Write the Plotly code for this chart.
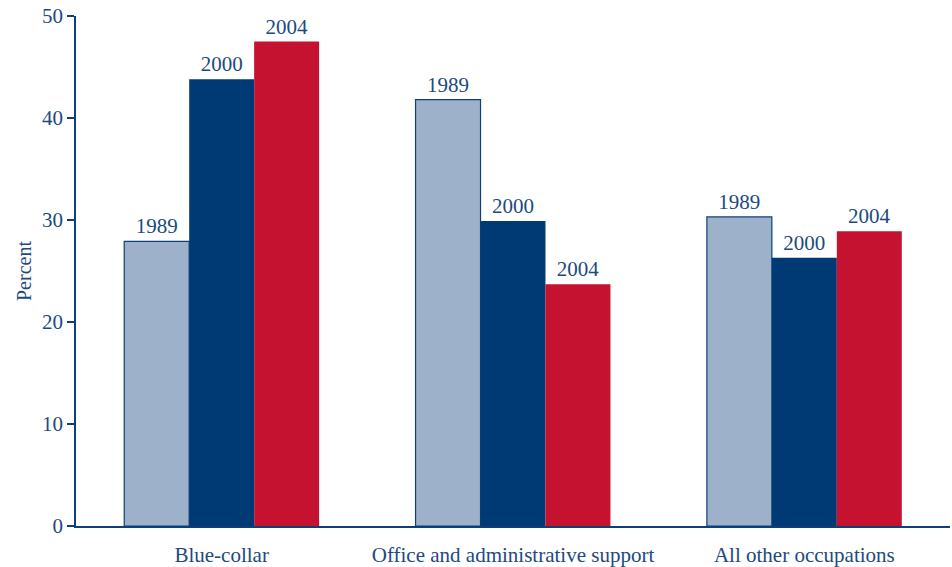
import plotly.graph_objects as go

categories = ["Blue-collar", "Office and administrative support", "All other occupations"]
years = ["1989", "2000", "2004"]
values_1989 = [27.9, 41.8, 30.3]
values_2000 = [43.8, 29.9, 26.3]
values_2004 = [47.5, 23.7, 28.9]
y_ticks = [0, 10, 20, 30, 40, 50]

NAVY = "#0E3F78"
TEXT = "#1C4A80"
colors = {"1989": "#9DB2CA", "2000": "#003A75", "2004": "#C41230"}
lines = {"1989": (NAVY, 1.2), "2000": ("#003A75", 0), "2004": ("#C41230", 0)}
series = {"1989": values_1989, "2000": values_2000, "2004": values_2004}

FONT = "Liberation Serif"

fig = go.Figure()
for yr in years:
    lc, lw = lines[yr]
    fig.add_trace(go.Bar(
        x=categories, y=series[yr], name=yr,
        marker=dict(color=colors[yr], line=dict(color=lc, width=lw)),
        text=[yr] * len(categories), textposition="outside",
        textfont=dict(family=FONT, size=21, color=TEXT),
        cliponaxis=False,
    ))

fig.update_layout(
    width=952, height=567,
    margin=dict(l=76, r=2, t=16, b=41),
    barmode="group", bargap=0.331, bargroupgap=0,
    plot_bgcolor="white", paper_bgcolor="white",
    showlegend=False,
    font=dict(family=FONT, size=21, color=TEXT),
    xaxis=dict(
        showline=True, linecolor=NAVY, linewidth=1.5,
        ticks="", ticklabelstandoff=9, automargin=False,
        tickfont=dict(family=FONT, size=21, color=TEXT),
    ),
    yaxis=dict(
        range=[0, 50], tickvals=y_ticks,
        showline=True, linecolor=NAVY, linewidth=1.5,
        ticks="outside", ticklen=7, tickcolor=NAVY, tickwidth=1.5,
        showgrid=False, zeroline=False, automargin=False,
        tickfont=dict(family=FONT, size=21, color=TEXT),
        title=dict(text="Percent", font=dict(family=FONT, size=20, color=TEXT), standoff=5),
    ),
)

fig.write_html("out.html")
